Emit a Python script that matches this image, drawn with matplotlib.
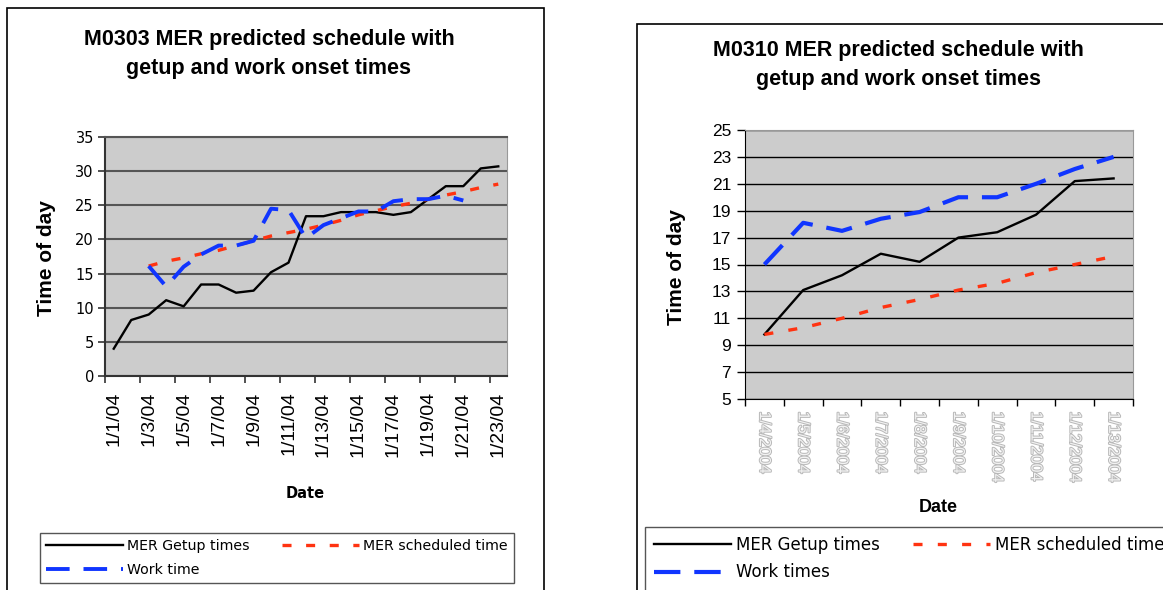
import numpy as np
import matplotlib as mpl
mpl.use('Agg')
import matplotlib.pyplot as plt
import matplotlib.patheffects as pe
from matplotlib.patches import Rectangle
from matplotlib.lines import Line2D

nan = np.nan

# M0303, daily values 1/1/04 .. 1/23/04
days_0303 = list(range(1, 24))
getup_0303 = [4.0, 8.2, 9.0, 11.1, 10.2, 13.4, 13.4, 12.2, 12.5, 15.2, 16.6, 23.4,
              23.4, 24.0, 24.0, 24.0, 23.6, 24.0, 25.9, 27.8, 27.8, 30.4, 30.7]
sched_0303 = [nan, nan, 16.1, 16.8, 17.3, 17.9, 18.4, 19.1, 19.8, 20.5, 21.0, 21.5,
              22.1, 22.8, 23.6, 24.2, 24.8, 25.3, 25.9, 26.5, 27.0, 27.6, 28.1]
work_0303 = [nan, nan, 16.1, 13.1, 16.0, 17.8, 19.1, 19.1, 19.8, 24.5, 24.3, 20.2,
             22.1, 23.1, 24.1, 24.1, 25.6, 25.9, 25.9, 26.4, 25.7, nan, nan]

# M0310, daily values 1/4/2004 .. 1/13/2004
days_0310 = list(range(4, 14))
getup_0310 = [9.8, 13.1, 14.2, 15.8, 15.2, 17.0, 17.4, 18.7, 21.2, 21.4]
work_0310 = [15.0, 18.1, 17.5, 18.4, 18.9, 20.0, 20.0, 21.0, 22.1, 23.0]
sched_0310 = [9.8, 10.3, 11.0, 11.8, 12.4, 13.1, 13.6, 14.4, 15.0, 15.6]

labels_0303 = ['1/%d/04' % d for d in days_0303]
labels_0310 = ['1/%d/2004' % d for d in days_0310]

RED = '#ff3311'
BLUE = '#1035ff'
W, H = 1163, 590

mpl.rcParams['lines.scale_dashes'] = False
SANS = 'Liberation Sans'
LUCIDA = 'DejaVu Sans'

fig = plt.figure(figsize=(W / 100, H / 100), dpi=100)


def fx(px):
    return px / W


def fy(py):
    return 1 - py / H


def axes_px(x0, y0, x1, y1):
    return fig.add_axes([fx(x0), fy(y1), fx(x1) - fx(x0), fy(y0) - fy(y1)])


# chart borders
fig.add_artist(Rectangle((fx(7), fy(620)), fx(544) - fx(7), fy(8) - fy(620),
                         transform=fig.transFigure, fill=False, ec='black', lw=1.2))
fig.add_artist(Rectangle((fx(637), fy(620)), fx(1200) - fx(637), fy(24) - fy(620),
                         transform=fig.transFigure, fill=False, ec='black', lw=1.2))

# ---- left chart: M0303 ----
ax1 = axes_px(105, 137, 507, 376)
x1 = np.arange(len(days_0303))
ax1.set_facecolor('#cccccc')
ax1.plot(x1, getup_0303, color='black', lw=1.7)
ax1.plot(x1, sched_0303, color=RED, lw=2.4, dashes=(6.5, 10.5))
ax1.plot(x1, work_0303, color=BLUE, lw=2.8, dashes=(17, 10))
ax1.set_xlim(-0.5, len(days_0303) - 0.5)
ax1.set_ylim(0, 35)
ax1.set_yticks(range(0, 36, 5))
ax1.yaxis.grid(True, color='#555555', lw=1.5)
ax1.set_axisbelow(True)
ax1.set_xticks(np.arange(-0.5, len(days_0303) - 1, 2), labels=[''] * 12)
ax1.set_xticks(x1[::2], labels=labels_0303[::2], minor=True)
ax1.tick_params(axis='x', which='major', length=5, width=1.2, color='#333333')
ax1.tick_params(axis='x', which='minor', length=0, pad=11, rotation=90, labelsize=14)
ax1.tick_params(axis='y', length=5, width=1.2, color='#333333', labelsize=10.5, pad=3)
for t in ax1.get_xticklabels(minor=True):
    t.set_fontfamily(SANS)
for t in ax1.get_yticklabels():
    t.set_fontfamily(LUCIDA)
for s in ['left', 'bottom']:
    ax1.spines[s].set_color('#333333')
    ax1.spines[s].set_linewidth(1.5)
ax1.spines['top'].set_color('#555555')
ax1.spines['top'].set_linewidth(1.5)
ax1.spines['right'].set_color('#999999')

fig.text(fx(269), fy(54), 'M0303 MER predicted schedule with\ngetup and work onset times',
         ha='center', va='center', fontsize=15.5, fontweight='bold', family=SANS, linespacing=1.5)
fig.text(fx(47), fy(258), 'Time of day', rotation=90, ha='center', va='center',
         fontsize=15, fontweight='bold', family=SANS)
fig.text(fx(305), fy(493), 'Date', ha='center', va='center',
         fontsize=10.5, fontweight='bold', family=LUCIDA)

leg1 = fig.legend([Line2D([], [], color='black', lw=1.7),
                   Line2D([], [], color=BLUE, lw=2.8, dashes=(17, 10)),
                   Line2D([], [], color=RED, lw=2.4, dashes=(6.5, 10.5))],
                  ['MER Getup times', 'Work time', 'MER scheduled time'],
                  loc='upper left', bbox_to_anchor=(fx(40), fy(533)), ncol=2,
                  fancybox=False, edgecolor='#555555', framealpha=1,
                  prop={'family': LUCIDA, 'size': 10.2}, handlelength=5.4, handletextpad=0.3,
                  columnspacing=2.3, borderpad=0.45, labelspacing=0.65, borderaxespad=0)
leg1.get_frame().set_linewidth(1)

# ---- right chart: M0310 ----
ax2 = axes_px(745, 130, 1133, 399)
x2 = np.arange(len(days_0310))
ax2.set_facecolor('#cccccc')
ax2.plot(x2, getup_0310, color='black', lw=1.7)
ax2.plot(x2, sched_0310, color=RED, lw=2.4, dashes=(6.5, 11))
ax2.plot(x2, work_0310, color=BLUE, lw=3, dashes=(19, 10))
ax2.set_xlim(-0.5, len(days_0310) - 0.5)
ax2.set_ylim(5, 25)
ax2.set_yticks(range(5, 26, 2))
ax2.yaxis.grid(True, color='black', lw=1)
ax2.set_axisbelow(True)
ax2.set_xticks(np.arange(-0.5, len(days_0310), 1), labels=[''] * 11)
ax2.set_xticks(x2, labels=labels_0310, minor=True)
ax2.tick_params(axis='x', which='major', length=5, width=1, color='black')
ax2.tick_params(axis='x', which='minor', length=0, pad=9, rotation=270, labelsize=11.5,
                labelcolor='#f2f2f2')
ax2.tick_params(axis='y', length=6, width=1, labelsize=12.5, pad=4)
for t in ax2.get_xticklabels(minor=True):
    t.set_fontfamily(SANS)
    t.set_path_effects([pe.withStroke(linewidth=1.4, foreground='#b8b8b8')])
for t in ax2.get_yticklabels():
    t.set_fontfamily(SANS)
ax2.spines['left'].set_color('black')
ax2.spines['bottom'].set_color('black')
ax2.spines['top'].set_color('#999999')
ax2.spines['right'].set_color('#999999')

fig.text(fx(898), fy(65), 'M0310 MER predicted schedule with\ngetup and work onset times',
         ha='center', va='center', fontsize=15.5, fontweight='bold', family=SANS, linespacing=1.5)
fig.text(fx(677), fy(267), 'Time of day', rotation=90, ha='center', va='center',
         fontsize=15, fontweight='bold', family=SANS)
fig.text(fx(938), fy(507), 'Date', ha='center', va='center',
         fontsize=13, fontweight='bold', family=SANS)

leg2 = fig.legend([Line2D([], [], color='black', lw=1.7),
                   Line2D([], [], color=BLUE, lw=3, dashes=(19, 10)),
                   Line2D([], [], color=RED, lw=2.4, dashes=(6.5, 11))],
                  ['MER Getup times', 'Work times', 'MER scheduled time'],
                  loc='upper left', bbox_to_anchor=(fx(645), fy(527)), ncol=2,
                  fancybox=False, edgecolor='#555555', framealpha=1,
                  prop={'family': LUCIDA, 'size': 12}, handlelength=4.6, handletextpad=0.3,
                  columnspacing=2.0, borderpad=0.55, labelspacing=0.55, borderaxespad=0)
leg2.get_frame().set_linewidth(1)

fig.savefig('out.png', dpi=100)
